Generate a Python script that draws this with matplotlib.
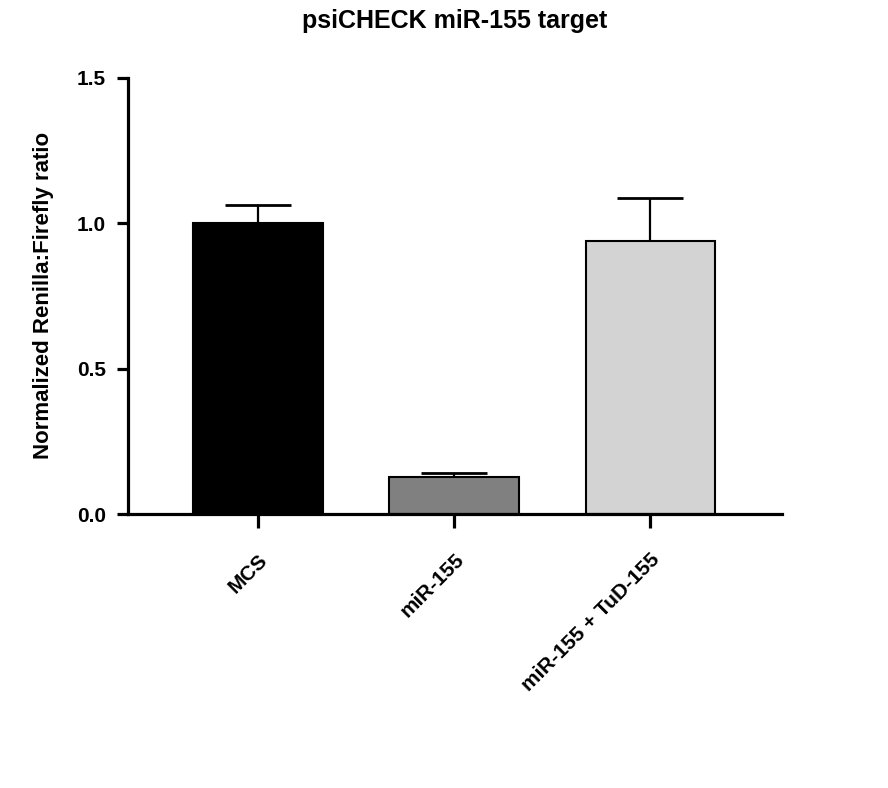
import numpy as np
import matplotlib
matplotlib.use("Agg")
import matplotlib.pyplot as plt

groups = ["MCS", "miR-155", "miR-155 + TuD-155"]
means = [1.0, 0.128, 0.938]
sem = [0.062, 0.013, 0.148]
colors = ["#000000", "#808080", "#d3d3d3"]

plt.rcParams['font.family'] = ['Liberation Sans', 'DejaVu Sans']
plt.rcParams['font.weight'] = 'bold'

fig = plt.figure(figsize=(8.88, 7.88), dpi=100)
ax = fig.add_axes([0.144, 0.3477, 0.737, 0.5535])

x = np.arange(len(groups))
ax.bar(x, means, width=0.66, color=colors, edgecolor="black", linewidth=1.5, zorder=2)
ax.errorbar(x, means, yerr=[np.zeros(len(sem)), sem], fmt="none", ecolor="black",
            elinewidth=1.6, capsize=24, capthick=2.0, zorder=1)

ax.set_xlim(-0.663, 2.673)
ax.set_ylim(0, 1.5)
ax.set_yticks([0.0, 0.5, 1.0, 1.5])
ax.set_yticklabels(["0.0", "0.5", "1.0", "1.5"])
ax.set_xticks(x)
ax.set_xticklabels(groups, rotation=45, ha="right", rotation_mode="anchor", fontsize=15,
                   fontweight="bold")

for s in ["top", "right"]:
    ax.spines[s].set_visible(False)
for s in ["left", "bottom"]:
    ax.spines[s].set_linewidth(2.3)

ax.tick_params(axis="y", length=8, width=2.3, labelsize=15, pad=8)
ax.tick_params(axis="x", length=10, width=2.3, pad=16)

ax.set_ylabel("Normalized Renilla:Firefly ratio", fontsize=16, fontweight="bold", labelpad=16)
ax.set_title("psiCHECK miR-155 target", fontsize=18, fontweight="bold", pad=36)

fig.savefig("out.png", dpi=100)
